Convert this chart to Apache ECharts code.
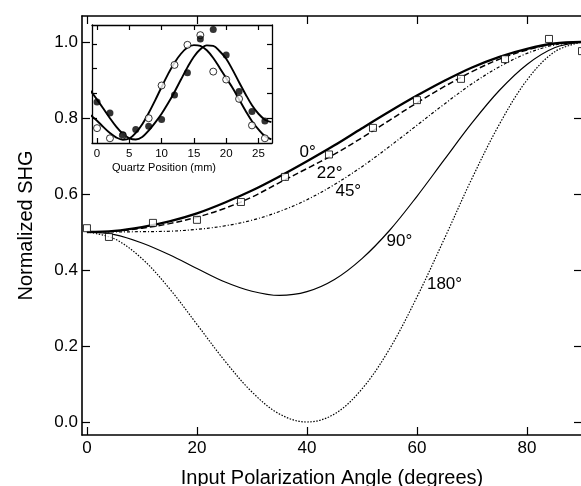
<!DOCTYPE html>
<html lang="en">
<head>
<meta charset="UTF-8">
<title>Normalized SHG</title>
<script src="https://cdn.jsdelivr.net/npm/echarts@6.0.0/dist/echarts.min.js"></script>
<style>
    html, body { margin: 0; padding: 0; background: #fff; }
    #chart { width: 581px; height: 486px; }
</style>
</head>
<body>
<div id="chart"></div>
<script>
// main plot: input polarization angle (deg) vs normalized SHG, one curve per quartz phase
var angles = [0, 5, 10, 15, 20, 25, 30, 35, 40, 45, 50, 55, 60, 65, 70, 75, 80, 85, 90];
var curve0 = [0.500, 0.503, 0.513, 0.528, 0.549, 0.577, 0.609, 0.646, 0.686, 0.728, 0.773, 0.817, 0.859, 0.898, 0.933, 0.961, 0.982, 0.996, 1.000];
var curve22 = [0.500, 0.502, 0.510, 0.522, 0.539, 0.562, 0.592, 0.630, 0.667, 0.705, 0.748, 0.794, 0.840, 0.883, 0.922, 0.955, 0.979, 0.995, 1.000];
var curve45 = [0.500, 0.500, 0.501, 0.502, 0.507, 0.516, 0.531, 0.554, 0.585, 0.625, 0.672, 0.725, 0.781, 0.837, 0.890, 0.935, 0.970, 0.992, 1.000];
var curve90 = [0.500, 0.493, 0.471, 0.440, 0.404, 0.369, 0.344, 0.333, 0.343, 0.375, 0.430, 0.504, 0.594, 0.691, 0.787, 0.873, 0.941, 0.985, 1.000];
var curve180 = [0.500, 0.482, 0.430, 0.351, 0.257, 0.162, 0.079, 0.021, 0.000, 0.021, 0.087, 0.192, 0.329, 0.483, 0.641, 0.784, 0.900, 0.974, 1.000];

// measured points (open squares)
var measAngles = [0, 4, 12, 20, 28, 36, 44, 52, 60, 68, 76, 84, 90];
var measShg = [0.510, 0.487, 0.524, 0.532, 0.579, 0.645, 0.704, 0.774, 0.847, 0.903, 0.955, 1.008, 0.976];

// curve labels
var phaseNames = ['0°', '22°', '45°', '90°', '180°'];
var phaseLabelAngle = [40.2, 44.2, 47.6, 56.9, 65.1];
var phaseLabelShg = [0.708, 0.653, 0.605, 0.474, 0.361];

var angleTicks = [0, 20, 40, 60, 80];
var shgTicks = [0, 0.2, 0.4, 0.6, 0.8, 1.0];

// inset: quartz position (mm)
var quartzPos = [-1, 0, 1, 2, 3, 4, 5, 6, 7, 8, 9, 10, 11, 12, 13, 14, 15, 16, 17, 18, 19, 20, 21, 22, 23, 24, 25, 26, 27];
var fitOpen = [0.712, 0.690, 0.664, 0.640, 0.622, 0.613, 0.618, 0.641, 0.676, 0.721, 0.772, 0.826, 0.878, 0.924, 0.960, 0.985, 0.995, 0.992, 0.974, 0.943, 0.903, 0.862, 0.822, 0.776, 0.730, 0.688, 0.655, 0.628, 0.615];
var fitFilled = [0.810, 0.775, 0.738, 0.700, 0.665, 0.637, 0.619, 0.614, 0.624, 0.650, 0.682, 0.718, 0.760, 0.806, 0.856, 0.905, 0.948, 0.978, 0.994, 0.992, 0.970, 0.940, 0.895, 0.845, 0.797, 0.752, 0.718, 0.694, 0.684];
var openPos = [0, 2, 4, 8, 10, 12, 14, 16, 18, 20, 22, 24, 26];
var openVal = [0.660, 0.619, 0.630, 0.700, 0.832, 0.915, 0.996, 1.035, 0.888, 0.856, 0.778, 0.671, 0.619];
var filledPos = [0, 2, 4, 6, 8, 10, 12, 14, 16, 18, 20, 22, 24, 26];
var filledVal = [0.765, 0.721, 0.633, 0.654, 0.668, 0.695, 0.794, 0.883, 1.020, 1.058, 0.955, 0.808, 0.727, 0.689];
var quartzTicks = [0, 5, 10, 15, 20, 25];
var insetTicks = [0.7, 0.8, 0.9, 1.0];

var FONT = '"Liberation Sans", Arial, Helvetica, sans-serif';

function pairs(xs, ys) {
    return xs.map(function (x, i) { return [x, ys[i]]; });
}

// frame axis: line + inward ticks, labels optional
function frameAxis(grid, pos, min, max, ticks, opts) {
    var a = {
        gridIndex: grid,
        type: 'value',
        position: pos,
        min: min,
        max: max,
        splitLine: {show: false},
        axisLine: {show: true, onZero: false, lineStyle: {color: '#000', width: opts.lineWidth}},
        axisTick: {show: true, inside: true, length: opts.tickLen, customValues: ticks,
            lineStyle: {color: '#000', width: 1.2}},
        axisLabel: {show: !!opts.label, customValues: ticks, color: '#000',
            fontFamily: FONT, fontSize: opts.fontSize || 12, margin: opts.margin || 6,
            formatter: opts.formatter}
    };
    if (opts.name) {
        a.name = opts.name;
        a.nameLocation = 'middle';
        a.nameGap = opts.nameGap;
        a.nameTextStyle = {color: '#000', fontFamily: FONT, fontSize: opts.nameSize,
            padding: opts.namePad || 0};
    }
    return a;
}

var chart = echarts.init(document.getElementById('chart'));

// axis index 0 = main plot, 2 = inset
function line(data, width, type, ai) {
    return {
        type: 'line',
        xAxisIndex: ai || 0,
        yAxisIndex: ai || 0,
        data: data,
        smooth: 0.35,
        showSymbol: false,
        symbol: 'none',
        clip: true,
        lineStyle: {color: '#000', width: width, type: type},
        z: 3
    };
}

chart.setOption({
    animation: false,
    backgroundColor: '#fff',
    grid: [
        {left: 82, top: 16, right: -1, bottom: 51, outerBoundsMode: 'none'},
        {left: 92, top: 25, width: 180, height: 118, outerBoundsMode: 'none',
            show: true, backgroundColor: '#fff', borderWidth: 0}
    ],
    xAxis: [
        frameAxis(0, 'bottom', -0.9, 90, angleTicks, {lineWidth: 1.6, tickLen: 8, label: true,
            fontSize: 17, margin: 5, name: 'Input Polarization Angle (degrees)', nameGap: 33, nameSize: 20}),
        frameAxis(0, 'top', -0.9, 90, angleTicks, {lineWidth: 1.6, tickLen: 8}),
        frameAxis(1, 'bottom', -0.78, 27.1, quartzTicks, {lineWidth: 1.3, tickLen: 5, label: true,
            fontSize: 11.5, margin: 5, name: 'Quartz Position (mm)', nameGap: 19, nameSize: 11,
            namePad: [0, 36, 0, 0]}),
        frameAxis(1, 'top', -0.78, 27.1, quartzTicks, {lineWidth: 1.3, tickLen: 5})
    ],
    yAxis: [
        frameAxis(0, 'left', -0.0342, 1.0684, shgTicks, {lineWidth: 1.6, tickLen: 8, label: true,
            fontSize: 17, margin: 4, formatter: function (v) { return v.toFixed(1); },
            name: 'Normalized SHG', nameGap: 46, nameSize: 20}),
        frameAxis(0, 'right', -0.0342, 1.0684, shgTicks, {lineWidth: 1.6, tickLen: 8}),
        frameAxis(1, 'left', 0.6, 1.076, insetTicks, {lineWidth: 1.3, tickLen: 5}),
        frameAxis(1, 'right', 0.6, 1.076, insetTicks, {lineWidth: 1.3, tickLen: 5})
    ],
    series: [
        line(pairs(angles, curve0), 2.3, 'solid'),
        line(pairs(angles, curve22), 1.5, [6, 3]),
        line(pairs(angles, curve45), 1.2, [3, 2, 1, 2]),
        line(pairs(angles, curve90), 1.2, 'solid'),
        line(pairs(angles, curve180), 1.2, [1.5, 1.5]),
        {
            type: 'scatter',
            data: pairs(measAngles, measShg),
            symbol: 'rect',
            symbolSize: 7,
            itemStyle: {color: '#fff', borderColor: '#000', borderWidth: 1},
            z: 4
        },
        {
            type: 'scatter',
            data: pairs(phaseLabelAngle, phaseLabelShg).map(function (p, i) {
                return {value: p, name: phaseNames[i]};
            }),
            symbolSize: 1,
            itemStyle: {color: 'transparent'},
            label: {show: true, position: [0, 0], align: 'center', verticalAlign: 'middle',
                formatter: '{b}', color: '#000', textBorderWidth: 0, opacity: 1,
                fontFamily: FONT, fontSize: 17},
            z: 5
        },
        line(pairs(quartzPos, fitOpen), 1.9, 'solid', 2),
        line(pairs(quartzPos, fitFilled), 1.9, 'solid', 2),
        {
            type: 'scatter',
            xAxisIndex: 2,
            yAxisIndex: 2,
            data: pairs(openPos, openVal),
            symbol: 'circle',
            symbolSize: 7,
            itemStyle: {color: '#fff', borderColor: '#000', borderWidth: 1},
            z: 4
        },
        {
            type: 'scatter',
            xAxisIndex: 2,
            yAxisIndex: 2,
            data: pairs(filledPos, filledVal),
            symbol: 'circle',
            symbolSize: 7,
            itemStyle: {color: '#000'},
            z: 4
        }
    ]
});
</script>
</body>
</html>
